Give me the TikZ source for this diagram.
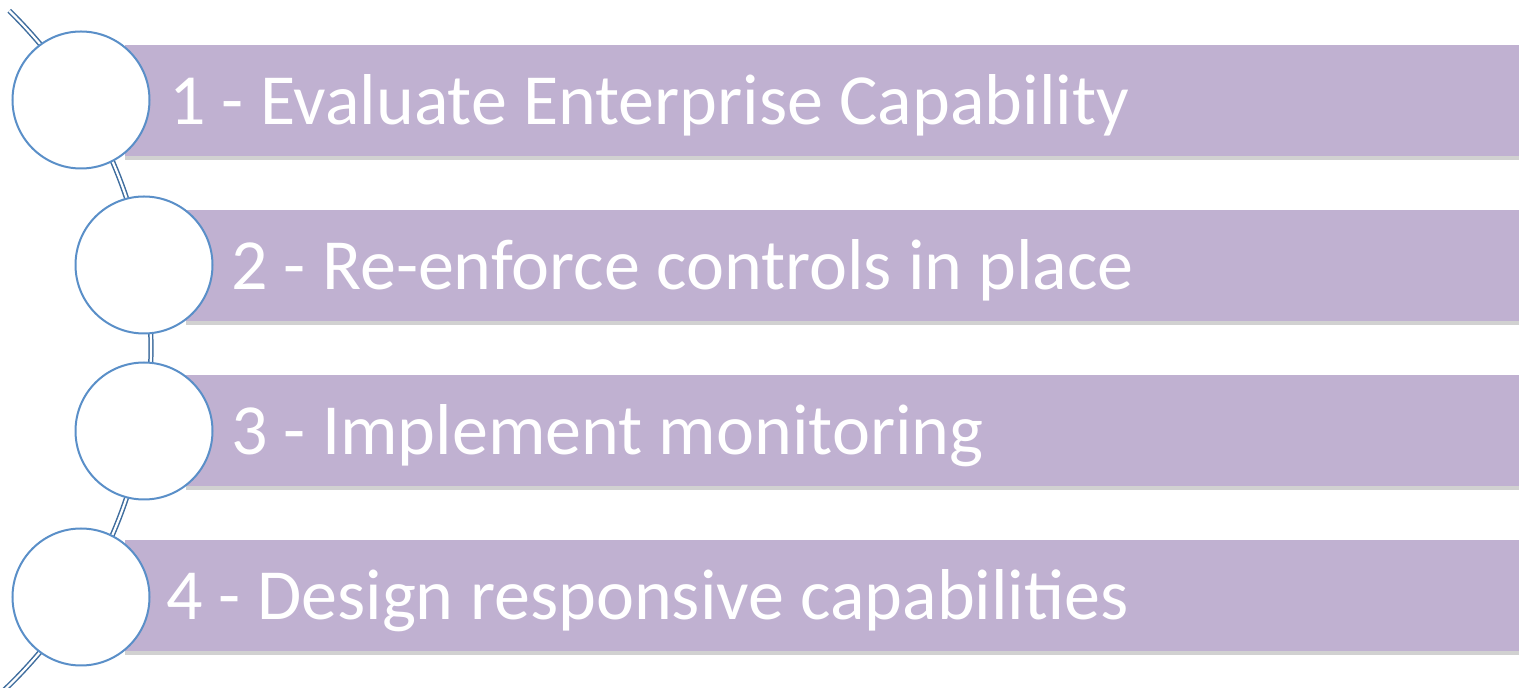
\documentclass[tikz,border=0pt]{standalone}
\usepackage{fontspec}
\setmainfont{Carlito}
\usetikzlibrary{shadows}

\definecolor{barfill}{HTML}{C0B1D1}
\definecolor{ringblue}{HTML}{5A8FC8}
\definecolor{arcblue}{HTML}{3F6D9E}

\tikzset{
  stepbar/.style={anchor=west, fill=barfill, minimum height=111pt, inner sep=0pt,
    drop shadow={shadow xshift=0pt, shadow yshift=-4pt, opacity=0.3, fill=black!60}},
  stepring/.style={circle, draw=ringblue, line width=2pt, fill=white, minimum size=137pt, inner sep=0pt},
  steptext/.style={anchor=base west, text=white, inner sep=0pt, font=\fontsize{72}{80}\selectfont}
}

\begin{document}
\begin{tikzpicture}[x=1pt, y=1pt]
\useasboundingbox (0,0) rectangle (1519,688);
\begin{scope}
\clip (0,0) rectangle (1519,688);
\draw[arcblue, line width=1.5pt, double=white, double distance=2.2pt]
  (-321,340) ++(45.6:472) arc[start angle=45.6, end angle=-48, radius=472];
\end{scope}

\node[stepbar, minimum width=1394pt] (bar1) at (125, 587.5) {};
\node[stepbar, minimum width=1333pt] (bar2) at (186, 422.5) {};
\node[stepbar, minimum width=1333pt] (bar3) at (186, 257.5) {};
\node[stepbar, minimum width=1394pt] (bar4) at (125, 92.5) {};

\node[stepring] (ring1) at (81, 588) {};
\node[stepring] (ring2) at (144, 423) {};
\node[stepring] (ring3) at (144, 257) {};
\node[stepring] (ring4) at (81, 91) {};

\node[steptext] (step1) at (169, 563) {1 - Evaluate Enterprise Capability};
\node[steptext] (step2) at (231, 398) {2 - Re-enforce controls in place};
\node[steptext] (step3) at (231, 233) {3 - Implement monitoring};
\node[steptext] (step4) at (166, 68) {4 - Design responsive capabilities};
\end{tikzpicture}
\end{document}
